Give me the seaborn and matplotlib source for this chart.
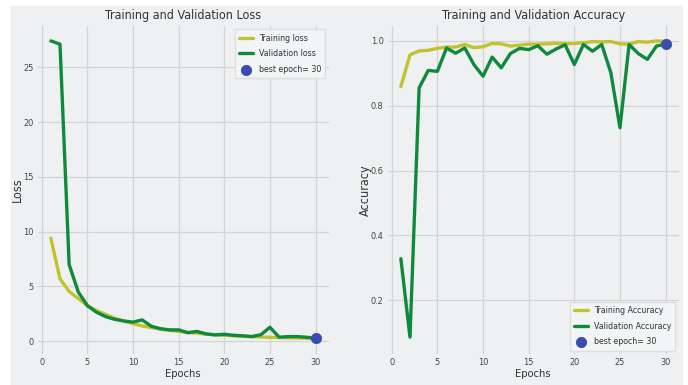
import matplotlib
matplotlib.use("Agg")
import matplotlib.pyplot as plt
import pandas as pd
import seaborn as sns
from matplotlib.patches import Rectangle

epochs = list(range(1, 31))
tr_loss = [9.4, 5.7, 4.55, 3.9, 3.25, 2.8, 2.45, 2.1, 1.85, 1.6,
           1.4, 1.25, 1.1, 1.0, 0.9, 0.82, 0.74, 0.66, 0.6, 0.55,
           0.5, 0.46, 0.42, 0.39, 0.36, 0.34, 0.32, 0.3, 0.28, 0.26]
val_loss = [27.4, 27.1, 7.0, 4.5, 3.25, 2.65, 2.25, 2.0, 1.85, 1.75,
            1.95, 1.37, 1.15, 1.04, 1.04, 0.78, 0.9, 0.67, 0.58, 0.64,
            0.55, 0.5, 0.43, 0.6, 1.28, 0.37, 0.43, 0.43, 0.37, 0.27]
tr_acc = [0.859, 0.957, 0.969, 0.971, 0.977, 0.981, 0.981, 0.989, 0.979, 0.982,
          0.992, 0.991, 0.984, 0.987, 0.99, 0.99, 0.991, 0.993, 0.991, 0.992,
          0.994, 0.998, 0.997, 0.998, 0.991, 0.99, 0.998, 0.996, 1.0, 0.998]
val_acc = [0.328, 0.086, 0.855, 0.909, 0.906, 0.978, 0.962, 0.978, 0.927, 0.891,
           0.95, 0.917, 0.961, 0.977, 0.973, 0.985, 0.959, 0.975, 0.988, 0.927,
           0.989, 0.968, 0.989, 0.902, 0.732, 0.989, 0.961, 0.943, 0.984, 0.99]
best_epoch = 30

df = pd.DataFrame({"epoch": epochs, "tr_loss": tr_loss, "val_loss": val_loss,
                   "tr_acc": tr_acc, "val_acc": val_acc})

sns.set_style("whitegrid")
plt.rcParams["font.family"] = ["DejaVu Sans"]
plt.rcParams["font.stretch"] = "condensed"

BG = "#eff0f1"
YEL = "#c2c230"
GRN = "#0f8a3c"
BLU = "#3a4cae"

fig = plt.figure(figsize=(6.88, 3.85), dpi=100, facecolor="white")
fig.patches.append(Rectangle((11 / 688, 0), 671 / 688, 379 / 385,
                             transform=fig.transFigure, color=BG, zorder=-10))

ax1 = fig.add_axes([0.0547, 0.0805, 0.4233, 0.852])
ax2 = fig.add_axes([0.5634, 0.0805, 0.4233, 0.852])

panels = [
    (ax1, "tr_loss", "val_loss", "Training loss", "Validation loss",
     "Training and Validation Loss", "Loss", val_loss[best_epoch - 1], "upper right"),
    (ax2, "tr_acc", "val_acc", "Training Accuracy", "Validation Accuracy",
     "Training and Validation Accuracy", "Accuracy", val_acc[best_epoch - 1], "lower right"),
]

for ax, tcol, vcol, tlab, vlab, title, ylab, best_val, loc in panels:
    ax.set_facecolor(BG)
    sns.lineplot(data=df, x="epoch", y=tcol, color=YEL, linewidth=2.4, label=tlab, ax=ax)
    sns.lineplot(data=df, x="epoch", y=vcol, color=GRN, linewidth=2.4, label=vlab, ax=ax)
    sns.scatterplot(x=[best_epoch], y=[best_val], s=55, color=BLU, edgecolor=BLU,
                    label=f"best epoch= {best_epoch}", ax=ax, zorder=5)
    ax.set_title(title, fontsize=9, color="#333333", pad=5)
    ax.set_xlabel("Epochs", fontsize=8, color="#333333", labelpad=1)
    ax.set_ylabel(ylab, fontsize=9, color="#333333", labelpad=-1)
    ax.grid(True, color="#d4d4d4", linewidth=0.9)
    for s in ax.spines.values():
        s.set_visible(False)
    ax.tick_params(axis="both", labelsize=6.6, colors="#444444", length=0, pad=3)
    ax.set_xticks([0, 5, 10, 15, 20, 25, 30])
    leg = ax.legend(loc=loc, fontsize=6.3, frameon=True, fancybox=False,
                    facecolor="#f3f4f5", edgecolor="#dedede", framealpha=1,
                    handlelength=1.6, handletextpad=0.6, borderpad=0.5,
                    labelspacing=0.75, borderaxespad=0.4)
    for t in leg.get_texts():
        t.set_color("#333333")

ax1.set_xlim(-0.45, 31.45)
ax1.set_ylim(-1.16, 28.76)
ax1.set_yticks([0, 5, 10, 15, 20, 25])
ax2.set_xlim(-0.45, 31.45)
ax2.set_ylim(0.034, 1.046)
ax2.set_yticks([0.2, 0.4, 0.6, 0.8, 1.0])

fig.savefig("out.png", dpi=100, facecolor="white")
